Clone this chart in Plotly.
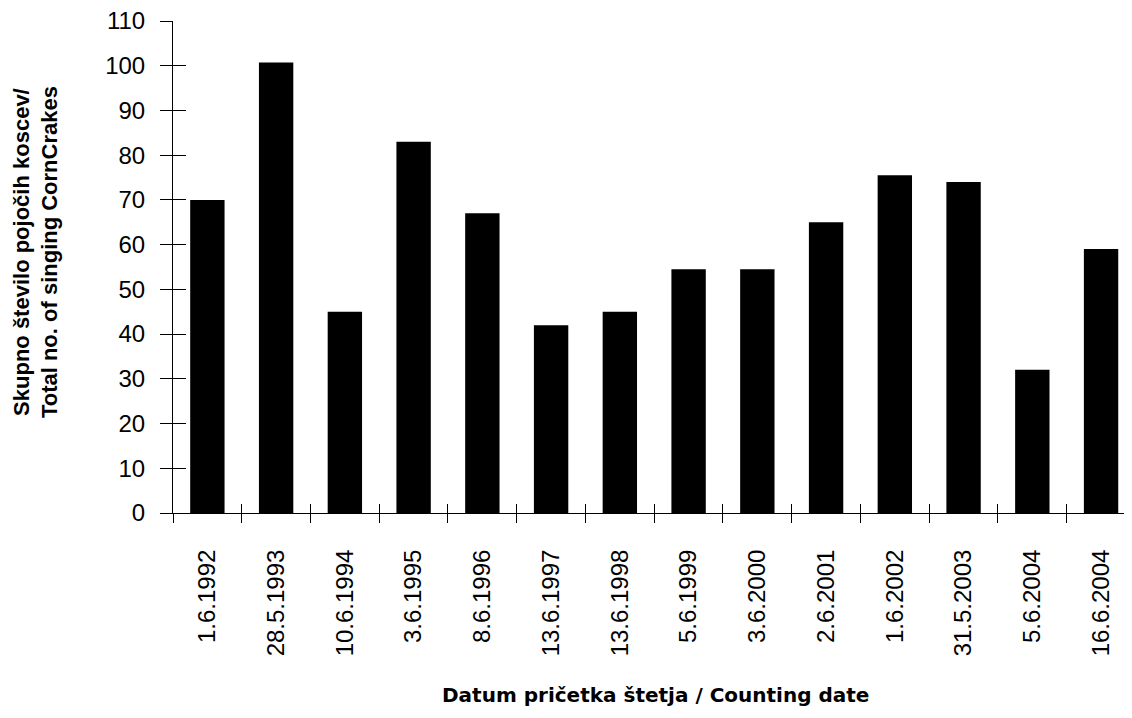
import plotly.graph_objects as go

dates = ["1.6.1992", "28.5.1993", "10.6.1994", "3.6.1995", "8.6.1996", "13.6.1997",
         "13.6.1998", "5.6.1999", "3.6.2000", "2.6.2001", "1.6.2002", "31.5.2003",
         "5.6.2004", "16.6.2004"]
corncrakes = [70, 100.7, 45, 83, 67, 42, 45, 54.5, 54.5, 65, 75.5, 74, 32, 59]
y_ticks = list(range(0, 111, 10))

y_title = "Skupno število pojočih koscev/<br>Total no. of singing CornCrakes"
x_title = "Datum pričetka štetja / Counting date"

FONT = "Liberation Sans"
xr = [-0.5, 13.45]
yr = [0, 110]

fig = go.Figure()
fig.add_trace(go.Bar(x=dates, y=corncrakes, width=0.5,
                     marker=dict(color="black", line=dict(width=0)),
                     showlegend=False))
# invisible companion trace for the inner half of the crossing ticks
fig.add_trace(go.Bar(x=dates, y=corncrakes, width=0.5, xaxis="x2", yaxis="y2",
                     marker=dict(color="rgba(0,0,0,0)", line=dict(width=0)),
                     hoverinfo="skip", showlegend=False))

tickfont = dict(family=FONT, size=24, color="black")

fig.update_layout(
    width=1132, height=718,
    margin=dict(l=165, r=8, t=13, b=213, autoexpand=False),
    paper_bgcolor="white", plot_bgcolor="white",
    bargap=0.5,
    xaxis=dict(type="category", range=xr, tickson="boundaries", ticks="outside",
               ticklen=9, tickwidth=1, tickcolor="black", showline=True,
               linecolor="black", linewidth=1, showgrid=False, tickangle=-90,
               tickfont=tickfont, ticklabelstandoff=26, zeroline=False,
               automargin=False, ticklabeloverflow="allow"),
    yaxis=dict(range=yr, tickvals=y_ticks, ticks="outside", ticklen=12, tickwidth=1,
               tickcolor="black", showline=True, linecolor="black", linewidth=1,
               showgrid=False, zeroline=False, tickfont=tickfont, ticklabelstandoff=10,
               automargin=False, ticklabeloverflow="allow"),
    xaxis2=dict(type="category", range=xr, overlaying="x", anchor="y2", side="bottom",
                tickson="boundaries", ticks="inside", ticklen=9, tickwidth=1,
                tickcolor="black", showline=False, showgrid=False,
                showticklabels=False, zeroline=False, automargin=False),
    yaxis2=dict(range=yr, overlaying="y", anchor="x2", side="left", tickvals=y_ticks,
                ticks="inside", ticklen=13, tickwidth=1, tickcolor="black",
                showline=False, showgrid=False, showticklabels=False, zeroline=False,
                automargin=False),
    annotations=[
        dict(text="<b>" + y_title + "</b>", xref="paper", yref="paper",
             x=-0.143, y=0.53, xanchor="center", yanchor="middle", textangle=-90,
             showarrow=False, font=dict(family=FONT, size=22, color="black")),
        dict(text="<b>" + x_title + "</b>", xref="paper", yref="paper",
             x=0.503, y=-0.37, xanchor="center", yanchor="middle",
             showarrow=False, font=dict(family="DejaVu Sans", size=20, color="black")),
    ],
)

fig.write_html("out.html")
